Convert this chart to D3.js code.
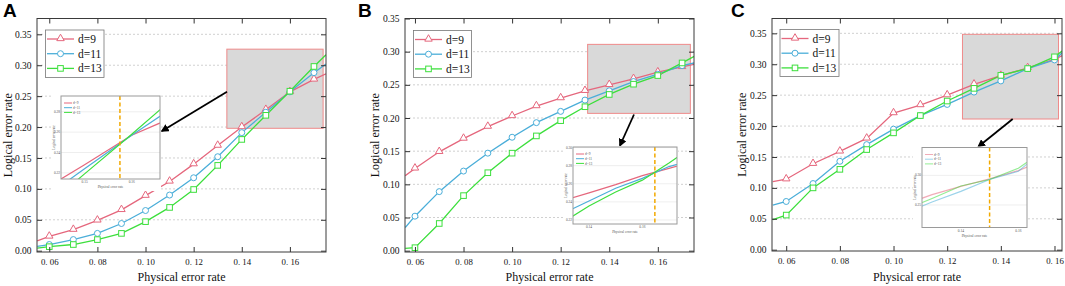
<!DOCTYPE html>
<html>
<head>
<meta charset="utf-8">
<script src="https://cdn.jsdelivr.net/npm/d3@7"></script>
<style>
  body { margin: 0; background: #fff; }
  svg { display: block; }
</style>
</head>
<body>
<svg id="chart" width="1065" height="286"></svg>
<script>

// ************** data *************************************
// first / last x of each series is where the line leaves the frame
var physA = [0.055, 0.06, 0.07, 0.08, 0.09, 0.10, 0.11, 0.12, 0.13, 0.14, 0.15, 0.16, 0.17, 0.175];
var d9A   = [0.016, 0.023, 0.034, 0.049, 0.066, 0.089, 0.112, 0.140, 0.170, 0.200, 0.228, 0.257, 0.277, 0.286];
var d11A  = [0.007, 0.010, 0.018, 0.028, 0.044, 0.065, 0.090, 0.118, 0.152, 0.191, 0.224, 0.257, 0.288, 0.302];
var d13A  = [0.004, 0.0065, 0.010, 0.018, 0.028, 0.047, 0.070, 0.099, 0.138, 0.180, 0.219, 0.258, 0.298, 0.317];

var physB = [0.056, 0.06, 0.07, 0.08, 0.09, 0.10, 0.11, 0.12, 0.13, 0.14, 0.15, 0.16, 0.17, 0.175];
var d9B   = [0.113, 0.124, 0.149, 0.169, 0.187, 0.203, 0.218, 0.230, 0.241, 0.250, 0.259, 0.269, 0.277, 0.281];
var d11B  = [0.035, 0.052, 0.089, 0.120, 0.147, 0.171, 0.193, 0.210, 0.227, 0.241, 0.255, 0.266, 0.279, 0.283];
var d13B  = [0.0035, 0.0045, 0.041, 0.083, 0.1175, 0.147, 0.173, 0.196, 0.217, 0.2355, 0.251, 0.264, 0.283, 0.293];

var physC = [0.055, 0.06, 0.07, 0.08, 0.09, 0.10, 0.11, 0.12, 0.13, 0.14, 0.15, 0.16, 0.163];
var d9C   = [0.110, 0.114, 0.139, 0.159, 0.180, 0.221, 0.234, 0.250, 0.2675, 0.2815, 0.294, 0.308, 0.314];
var d11C  = [0.072, 0.078, 0.107, 0.143, 0.170, 0.195, 0.217, 0.235, 0.255, 0.273, 0.293, 0.307, 0.319];
var d13C  = [0.0485, 0.056, 0.100, 0.130, 0.162, 0.189, 0.217, 0.2405, 0.261, 0.282, 0.293, 0.312, 0.322];

var seriesNames = ["d=9", "d=11", "d=13"];

var xTicks = [0.06, 0.08, 0.10, 0.12, 0.14, 0.16];
var xTickLabels = ["0. 06", "0. 08", "0. 10", "0. 12", "0. 14", "0. 16"];
var yTicks = [0.00, 0.05, 0.10, 0.15, 0.20, 0.25, 0.30, 0.35];
var yTickLabels = ["0.00", "0.05", "0.10", "0.15", "0.20", "0.25", "0.30", "0.35"];

// highlighted region [x0, x1, y0, y1] in data units
var zoomA = [0.1338, 0.1738, 0.198, 0.326];
var zoomB = [0.1311, 0.1734, 0.207, 0.311];
var zoomC = [0.1257, 0.1615, 0.2114, 0.3484];

// inset view domains and threshold line
var insetXA = [0.145, 0.166], insetYA = [0.214, 0.2955], thresholdA = 0.1575;
var insetXB = [0.134, 0.173], insetYB = [0.2156, 0.3006], thresholdB = 0.1647;
var insetXC = [0.1265, 0.163], insetYC = [0.212, 0.347], thresholdC = 0.150;

// ************** styles *****************
var colors = ["#e5677d", "#4baed9", "#3ddf3d"];
var serif = "'Times New Roman', 'Liberation Serif', serif";

var svg = d3.select("#chart");
var clipId = 0;

var panels = [
    { letter: "A", lx: 3, left: 37, right: 326, top: 18.5, bottom: 252,
      xDomain: [0.0549, 0.175], yDomain: [-0.0021, 0.3756],
      phys: physA, series: [d9A, d11A, d13A], zoom: zoomA,
      legend: { x: 45.5, y: 30, w: 58.5, h: 47.5 },
      arrow: [227, 91.7, 162, 131],
      inset: { x: 61, y: 96, w: 99, h: 83, xd: insetXA, yd: insetYA, thr: thresholdA, op: 1 },
      ytitleX: 12 },
    { letter: "B", lx: 358, left: 405, right: 694, top: 18.5, bottom: 252,
      xDomain: [0.0559, 0.1749], yDomain: [-0.002, 0.35],
      phys: physB, series: [d9B, d11B, d13B], zoom: zoomB,
      legend: { x: 413.5, y: 30.5, w: 58, h: 47 },
      arrow: [634, 114.5, 620, 145.5],
      inset: { x: 573, y: 147, w: 104, h: 77, xd: insetXB, yd: insetYB, thr: thresholdB, op: 1 },
      ytitleX: 379 },
    { letter: "C", lx: 731, left: 772, right: 1062, top: 18.5, bottom: 251,
      xDomain: [0.0547, 0.1628], yDomain: [-0.0021, 0.374],
      phys: physC, series: [d9C, d11C, d13C], zoom: zoomC,
      legend: { x: 780, y: 29.5, w: 59, h: 47 },
      arrow: [1012.7, 119, 978.5, 146.5],
      inset: { x: 922, y: 147.5, w: 105, h: 80, xd: insetXC, yd: insetYC, thr: thresholdC, op: 0.55 },
      ytitleX: 746 }
];

// arrow head
svg.append("defs").append("marker")
    .attr("id", "arrowHead")
    .attr("viewBox", "0 0 10 10")
    .attr("refX", 8).attr("refY", 5)
    .attr("markerWidth", 4.5).attr("markerHeight", 4.5)
    .attr("orient", "auto")
    .append("path")
    .attr("d", "M0,0L10,5L0,10z")
    .attr("fill", "#000");

function drawMarker(g, k, cx, cy, color) {
    if (k === 0) {
        g.append("path")
            .attr("d", d3.symbol(d3.symbolTriangle, 24)())
            .attr("transform", "translate(" + cx + "," + (cy - 0.5) + ")")
            .attr("fill", "#fff").attr("stroke", color).attr("stroke-width", 1);
    } else if (k === 1) {
        g.append("circle").attr("cx", cx).attr("cy", cy).attr("r", 3)
            .attr("fill", "#fff").attr("stroke", color).attr("stroke-width", 1);
    } else {
        g.append("rect").attr("x", cx - 2.8).attr("y", cy - 2.8)
            .attr("width", 5.6).attr("height", 5.6)
            .attr("fill", "#fff").attr("stroke", color).attr("stroke-width", 1);
    }
}

panels.forEach(drawPanel);

function drawPanel(p) {
    var g = svg.append("g");

    var x = d3.scaleLinear().domain(p.xDomain).range([p.left, p.right]);
    var y = d3.scaleLinear().domain(p.yDomain).range([p.bottom, p.top]);

    // grid lines
    g.append("g").selectAll("line")
        .data(yTicks.filter(function (d) { return d > 0; }))
        .enter().append("line")
        .attr("x1", p.left).attr("x2", p.right)
        .attr("y1", function (d) { return y(d); })
        .attr("y2", function (d) { return y(d); })
        .attr("stroke", "#c4c4c4")
        .attr("stroke-width", 0.8)
        .attr("stroke-dasharray", "2,2");

    // zoomed region
    g.append("rect")
        .attr("x", x(p.zoom[0])).attr("y", y(p.zoom[3]))
        .attr("width", x(p.zoom[1]) - x(p.zoom[0]))
        .attr("height", y(p.zoom[2]) - y(p.zoom[3]))
        .attr("fill", "#d9d9d9")
        .attr("stroke", "#ef8a8a")
        .attr("stroke-width", 1);

    // clip
    var cid = "clip" + (clipId++);
    svg.append("clipPath").attr("id", cid).append("rect")
        .attr("x", p.left).attr("y", p.top)
        .attr("width", p.right - p.left).attr("height", p.bottom - p.top);

    var line = d3.line()
        .x(function (d) { return x(d[0]); })
        .y(function (d) { return y(d[1]); });

    var plot = g.append("g").attr("clip-path", "url(#" + cid + ")");
    p.series.forEach(function (vals, k) {
        var pts = p.phys.map(function (px, i) { return [px, vals[i]]; });
        plot.append("path")
            .attr("d", line(pts))
            .attr("fill", "none")
            .attr("stroke", colors[k])
            .attr("stroke-width", 1.3);
    });
    p.series.forEach(function (vals, k) {
        p.phys.forEach(function (px, i) {
            var c = px * 100;
            if (Math.abs(c - Math.round(c)) > 1e-6) return; // frame-edge points carry no marker
            drawMarker(plot, k, x(px), y(vals[i]), colors[k]);
        });
    });

    // axes, ticks pointing inward
    var yAxis = g.append("g")
        .attr("transform", "translate(" + p.left + ",0)")
        .call(d3.axisLeft(y).tickValues(yTicks)
            .tickFormat(function (d, i) { return yTickLabels[i]; })
            .tickSizeInner(-5).tickSizeOuter(0).tickPadding(5.5));
    var yAxisR = g.append("g")
        .attr("transform", "translate(" + p.right + ",0)")
        .call(d3.axisRight(y).tickValues(yTicks).tickFormat("")
            .tickSizeInner(-5).tickSizeOuter(0));
    var xAxis = g.append("g")
        .attr("transform", "translate(0," + p.bottom + ")")
        .call(d3.axisBottom(x).tickValues(xTicks)
            .tickFormat(function (d, i) { return xTickLabels[i]; })
            .tickSizeInner(-5).tickSizeOuter(0).tickPadding(7));
    var xAxisT = g.append("g")
        .attr("transform", "translate(0," + p.top + ")")
        .call(d3.axisTop(x).tickValues(xTicks).tickFormat("")
            .tickSizeInner(-5).tickSizeOuter(0));
    [yAxis, yAxisR, xAxis, xAxisT].forEach(function (a) {
        a.select(".domain").remove();
        a.selectAll(".tick line").attr("stroke", "#333");
        a.selectAll("text")
            .attr("font-family", serif)
            .attr("font-size", 9.5)
            .attr("fill", "#111");
    });
    xAxis.selectAll("text").attr("font-size", 8.8);

    // frame
    g.append("rect")
        .attr("x", p.left).attr("y", p.top)
        .attr("width", p.right - p.left).attr("height", p.bottom - p.top)
        .attr("fill", "none").attr("stroke", "#3a3a3a").attr("stroke-width", 1);

    // titles
    g.append("text")
        .attr("x", (p.left + p.right) / 2).attr("y", 280.5)
        .attr("text-anchor", "middle")
        .attr("font-family", serif).attr("font-size", 12).attr("fill", "#111")
        .text("Physical error rate");
    g.append("text")
        .attr("transform", "translate(" + p.ytitleX + "," + ((p.top + p.bottom) / 2) + ") rotate(-90)")
        .attr("text-anchor", "middle")
        .attr("font-family", serif).attr("font-size", 12).attr("fill", "#111")
        .text("Logical error rate");
    g.append("text")
        .attr("x", p.lx).attr("y", 17)
        .attr("font-family", "Arial, 'Liberation Sans', sans-serif")
        .attr("font-weight", "bold").attr("font-size", 19)
        .text(p.letter);

    // legend
    var L = p.legend;
    g.append("rect")
        .attr("x", L.x).attr("y", L.y).attr("width", L.w).attr("height", L.h)
        .attr("fill", "#fff").attr("stroke", "#777").attr("stroke-width", 0.8);
    seriesNames.forEach(function (name, k) {
        var ly = L.y + 9 + k * 14.7;
        g.append("line")
            .attr("x1", L.x + 1.5).attr("x2", L.x + 28.5)
            .attr("y1", ly).attr("y2", ly)
            .attr("stroke", colors[k]).attr("stroke-width", 1.3);
        drawMarker(g, k, L.x + 15, ly, colors[k]);
        g.append("text")
            .attr("x", L.x + 32.5).attr("y", ly + 4)
            .attr("font-family", serif).attr("font-size", 11.5).attr("fill", "#111")
            .text(name);
    });

    // arrow from highlighted region to inset
    g.append("line")
        .attr("x1", p.arrow[0]).attr("y1", p.arrow[1])
        .attr("x2", p.arrow[2]).attr("y2", p.arrow[3])
        .attr("stroke", "#000").attr("stroke-width", 1.8)
        .attr("marker-end", "url(#arrowHead)");

    drawInset(g, p);
}

function drawInset(g, p) {
    var I = p.inset;
    var ix = d3.scaleLinear().domain(I.xd).range([I.x, I.x + I.w]);
    var iy = d3.scaleLinear().domain(I.yd).range([I.y + I.h, I.y]);

    g.append("rect")
        .attr("x", I.x - 9).attr("y", I.y - 1)
        .attr("width", I.w + 10).attr("height", I.h + 13)
        .attr("fill", "#fff");

    var iyTicks = iy.ticks(3);
    g.append("g").selectAll("line")
        .data(iyTicks).enter().append("line")
        .attr("x1", I.x).attr("x2", I.x + I.w)
        .attr("y1", function (d) { return iy(d); })
        .attr("y2", function (d) { return iy(d); })
        .attr("stroke", "#e2e2e2").attr("stroke-width", 0.6);

    var cid = "clip" + (clipId++);
    svg.append("clipPath").attr("id", cid).append("rect")
        .attr("x", I.x).attr("y", I.y).attr("width", I.w).attr("height", I.h);

    var line = d3.line()
        .x(function (d) { return ix(d[0]); })
        .y(function (d) { return iy(d[1]); });
    var plot = g.append("g").attr("clip-path", "url(#" + cid + ")");
    p.series.forEach(function (vals, k) {
        plot.append("path")
            .attr("d", line(p.phys.map(function (px, i) { return [px, vals[i]]; })))
            .attr("fill", "none").attr("stroke", colors[k])
            .attr("stroke-opacity", I.op)
            .attr("stroke-width", 1.2);
    });
    plot.append("line")
        .attr("x1", ix(I.thr)).attr("x2", ix(I.thr))
        .attr("y1", I.y).attr("y2", I.y + I.h)
        .attr("stroke", "#f2a900").attr("stroke-width", 1.5)
        .attr("stroke-dasharray", "4,2.5");

    g.append("rect")
        .attr("x", I.x).attr("y", I.y).attr("width", I.w).attr("height", I.h)
        .attr("fill", "none").attr("stroke", "#9a9a9a").attr("stroke-width", 1);

    // tiny labels
    var tiny = function (sel) {
        return sel.attr("font-family", serif).attr("font-size", 3.5).attr("fill", "#555");
    };
    iyTicks.forEach(function (t) {
        tiny(g.append("text")).attr("x", I.x - 1).attr("y", iy(t) + 1)
            .attr("text-anchor", "end").text(d3.format(".2f")(t));
    });
    ix.ticks(2).forEach(function (t) {
        tiny(g.append("text")).attr("x", ix(t)).attr("y", I.y + I.h + 4)
            .attr("text-anchor", "middle").text(d3.format(".2f")(t));
    });
    tiny(g.append("text")).attr("x", I.x + I.w / 2).attr("y", I.y + I.h + 9)
        .attr("text-anchor", "middle").text("Physical error rate");
    tiny(g.append("text"))
        .attr("transform", "translate(" + (I.x - 6) + "," + (I.y + I.h / 2) + ") rotate(-90)")
        .attr("text-anchor", "middle").text("Logical error rate");

    seriesNames.forEach(function (name, k) {
        var ly = I.y + 7 + k * 4.7;
        g.append("line")
            .attr("x1", I.x + 3).attr("x2", I.x + 11)
            .attr("y1", ly).attr("y2", ly)
            .attr("stroke", colors[k]).attr("stroke-opacity", I.op).attr("stroke-width", 1);
        tiny(g.append("text")).attr("x", I.x + 12).attr("y", ly + 1.2).text(name);
    });
}
</script>
</body>
</html>
